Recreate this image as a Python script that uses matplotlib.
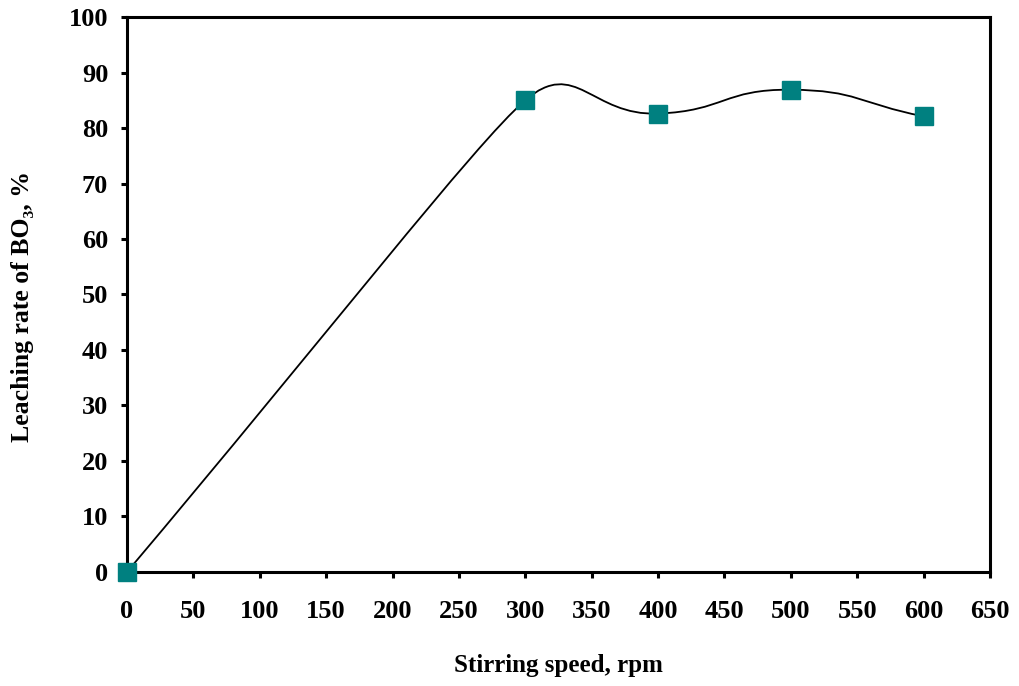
import numpy as np
import matplotlib
matplotlib.use("Agg")
import matplotlib.pyplot as plt
from matplotlib.path import Path
from matplotlib.patches import PathPatch

# ---------------- data ----------------
speed = [0, 300, 400, 500, 600]          # rpm
leach = [0.0, 85.0, 82.6, 86.9, 82.1]    # %
xticks = list(range(0, 651, 50))
yticks = list(range(0, 101, 10))

plt.rcParams['font.family'] = ['Liberation Serif', 'DejaVu Serif']
plt.rcParams['font.weight'] = 'bold'

fig = plt.figure(figsize=(10.19, 6.86), dpi=100)
ax = fig.add_axes([0.1246, 0.1662, 0.8469, 0.8090])
ax.set_xlim(0, 650); ax.set_ylim(0, 100)

# smoothed line (Excel-like bezier through the points, tangents in screen space)
P = ax.transData.transform(np.column_stack([speed, leach]).astype(float))
n = len(P)
k = 1.5
L = [np.hypot(*(P[i + 1] - P[i])) for i in range(n - 1)]
verts, codes = [P[0]], [Path.MOVETO]
for i in range(n - 1):
    p0 = P[max(i - 1, 0)]; p1 = P[i]; p2 = P[i + 1]; p3 = P[min(i + 2, n - 1)]
    m1 = min(L[i], L[i - 1]) if i > 0 else L[i]
    m2 = min(L[i], L[i + 1]) if i < n - 2 else L[i]
    t1 = (p2 - p0) / np.hypot(*(p2 - p0))
    t2 = (p3 - p1) / np.hypot(*(p3 - p1))
    c1 = p1 + t1 * m1 * k / 3.0
    c2 = p2 - t2 * m2 * k / 3.0
    verts += [c1, c2, p2]; codes += [Path.CURVE4] * 3
verts = ax.transData.inverted().transform(np.array(verts))
ax.add_patch(PathPatch(Path(verts, codes), fc='none', ec='black', lw=1.3, zorder=2))

ax.plot(speed, leach, ls='none', marker='s', ms=13, mfc='#008080', mec='#008080', zorder=3, clip_on=False)

ax.set_xticks(xticks); ax.set_yticks(yticks)
for s in ax.spines.values():
    s.set_linewidth(2.2)
ax.tick_params(direction='out', length=4.5, width=2.2, labelsize=19)
ax.tick_params(axis='x', pad=16)
ax.tick_params(axis='y', pad=9)
for lab in ax.get_xticklabels() + ax.get_yticklabels():
    lab.set_fontweight('bold')

ax.set_xlabel('Stirring speed, rpm', fontsize=18, fontweight='bold', labelpad=22)
ax.set_ylabel('Leaching rate of BO\u2083, %', fontsize=18.5, fontweight='bold')
ax.yaxis.set_label_coords(-0.108, 0.478)

fig.savefig('out.png', dpi=100)
